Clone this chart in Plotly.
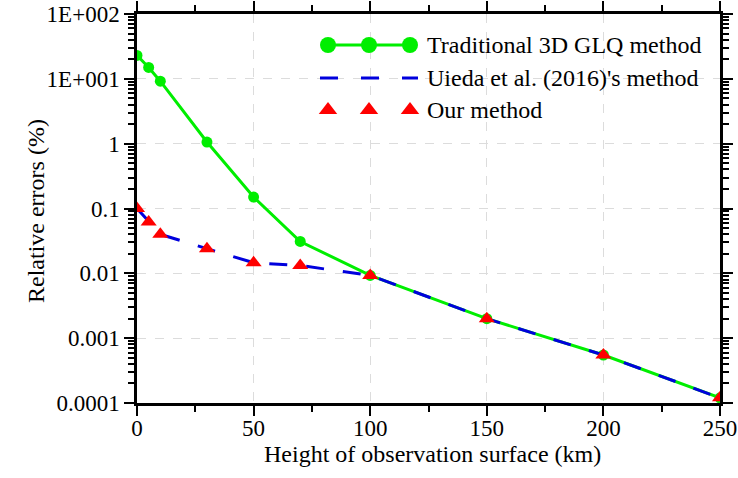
import plotly.graph_objects as go

# ---- data ----
heights = [0, 5, 10, 30, 50, 70, 100, 150, 200, 250]
glq_errors = [23, 15, 9.2, 1.06, 0.15, 0.031, 0.0093, 0.0020, 0.00055, 0.00012]
uieda_errors = [0.1, 0.062, 0.040, 0.024, 0.0146, 0.0132, 0.0093, 0.0020, 0.00055, 0.00012]
our_errors = [0.1, 0.062, 0.040, 0.024, 0.0146, 0.0132, 0.0093, 0.0020, 0.00055, 0.00012]

y_label_alias = {"10": "1E+001", "100": "1E+002"}

legend_labels = ["Traditional 3D GLQ method", "Uieda et al. (2016)'s method", "Our method"]
x_title = "Height of observation surface (km)"
y_title = "Relative errors (%)"

GREEN = "#00ee00"
BLUE = "#0000dd"
RED = "#ff0000"
FONT = "Liberation Serif"

W, H = 738, 478
# plot area in pixels
SL, SR, ST, SB = 137, 720, 14, 403


def px_to_paper_x(sx):
    return (sx - SL) / (SR - SL)


def px_to_paper_y(sy):
    return (SB - sy) / (SB - ST)


fig = go.Figure()

fig.add_trace(go.Scatter(
    x=heights, y=glq_errors, mode="lines+markers",
    line=dict(color=GREEN, width=3),
    marker=dict(color=GREEN, size=11, symbol="circle"),
    showlegend=False))
fig.add_trace(go.Scatter(
    x=heights, y=uieda_errors, mode="lines",
    line=dict(color=BLUE, width=3, dash="18px,19px"),
    showlegend=False))
fig.add_trace(go.Scatter(
    x=heights, y=our_errors, mode="markers",
    marker=dict(color=RED, size=14, symbol="triangle-up"),
    showlegend=False))

# ---- hand-drawn legend on an overlay axis (pixel coordinates) ----
key_x = [328, 369, 410]
row_y = [45, 78, 110]
fig.add_trace(go.Scatter(
    x=key_x, y=[row_y[0]] * 3, mode="lines+markers", xaxis="x2", yaxis="y2",
    line=dict(color=GREEN, width=3), marker=dict(color=GREEN, size=16),
    showlegend=False, hoverinfo="skip"))
fig.add_trace(go.Scatter(
    x=[key_x[0] - 8, key_x[2] + 8], y=[row_y[1]] * 2, mode="lines", xaxis="x2", yaxis="y2",
    line=dict(color=BLUE, width=3, dash="18px,23px"),
    showlegend=False, hoverinfo="skip"))
fig.add_trace(go.Scatter(
    x=key_x, y=[row_y[2]] * 3, mode="markers", xaxis="x2", yaxis="y2",
    marker=dict(color=RED, size=16, symbol="triangle-up"),
    showlegend=False, hoverinfo="skip"))

for lab, yy in zip(legend_labels, row_y):
    fig.add_annotation(x=425, y=yy, xref="x2", yref="y2", text=lab,
                       showarrow=False, xanchor="left", yanchor="middle",
                       font=dict(family=FONT, size=24, color="black"))

# axis titles
fig.add_annotation(x=px_to_paper_x(432), y=px_to_paper_y(454), xref="paper", yref="paper",
                   text=x_title, showarrow=False, xanchor="center", yanchor="middle",
                   font=dict(family=FONT, size=24, color="black"))
fig.add_annotation(x=px_to_paper_x(36), y=px_to_paper_y(211), xref="paper", yref="paper",
                   text=y_title, textangle=-90, showarrow=False,
                   xanchor="center", yanchor="middle",
                   font=dict(family=FONT, size=24, color="black"))

axis_common = dict(
    showline=True, linecolor="black", linewidth=2.5, mirror="ticks",
    ticks="outside", ticklen=10, tickwidth=2, tickcolor="black",
    showgrid=True, gridcolor="#dcdcdc", griddash="dash", gridwidth=1,
    zeroline=False, automargin=False, ticklabeloverflow="allow",
    tickfont=dict(family=FONT, size=23, color="black"),
)

fig.update_layout(
    width=W, height=H,
    margin=dict(l=SL, r=W - SR, t=ST, b=H - SB),
    paper_bgcolor="white", plot_bgcolor="white",
    font=dict(family=FONT, color="black"),
    hovermode=False,
    xaxis=dict(
        **axis_common, range=[0, 250], tickmode="linear", tick0=0, dtick=50,
        ticklabelstandoff=-7,
        minor=dict(ticks="outside", ticklen=6, tickwidth=2, tickcolor="black",
                   dtick=25, tick0=0, showgrid=False),
    ),
    yaxis=dict(
        **axis_common, type="log", range=[-4, 2],
        tickmode="linear", tick0=0, dtick=1, exponentformat="none",
        labelalias=y_label_alias,
        minor=dict(ticks="outside", ticklen=6, tickwidth=1.5, tickcolor="black",
                   dtick="D1", showgrid=False),
    ),
    xaxis2=dict(range=[SL, SR], overlaying="x", anchor="y2", visible=False),
    yaxis2=dict(range=[SB, ST], overlaying="y", anchor="x2", visible=False),
)

fig.write_html("out.html", config={"displayModeBar": False},
               post_script="document.body.style.margin='0';")
